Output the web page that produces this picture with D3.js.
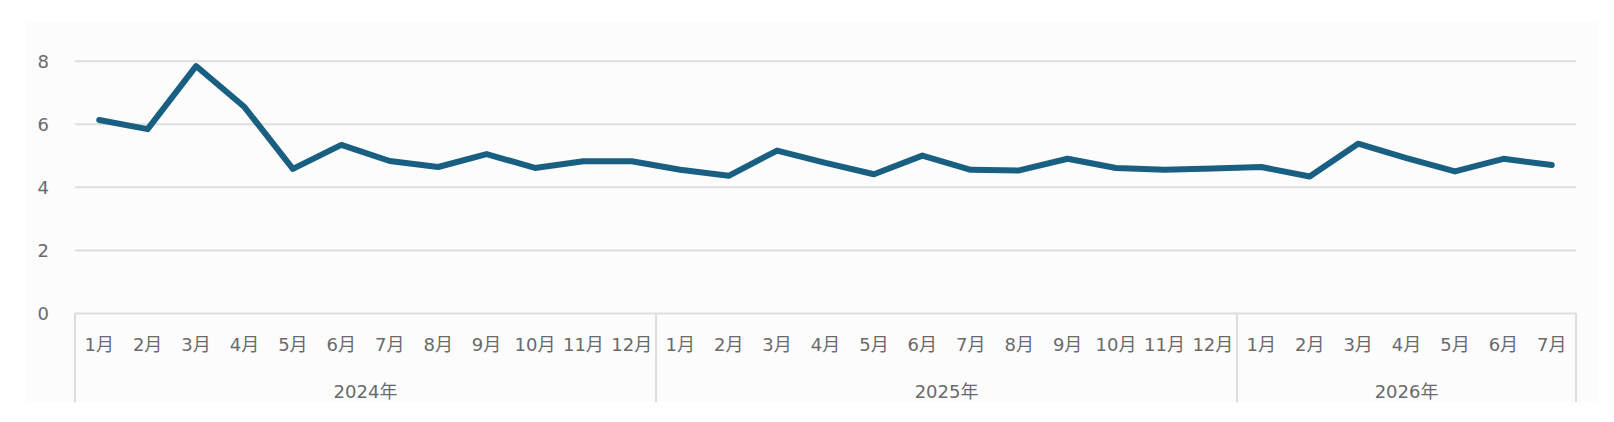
<!DOCTYPE html>
<html>
<head>
<meta charset="utf-8">
<script src="https://cdn.jsdelivr.net/npm/d3@7"></script>
<style>
  body { margin: 0; background: #ffffff; }
  text { font-family: "DejaVu Sans", "Noto Sans CJK JP", sans-serif; fill: #6a6a6a; }
</style>
</head>
<body>
<svg width="1614" height="422"></svg>
<script>
// year groups and the month labels under each of them
const years = ["2024年", "2025年", "2026年"];
const months2024 = ["1月", "2月", "3月", "4月", "5月", "6月", "7月", "8月", "9月", "10月", "11月", "12月"];
const months2025 = ["1月", "2月", "3月", "4月", "5月", "6月", "7月", "8月", "9月", "10月", "11月", "12月"];
const months2026 = ["1月", "2月", "3月", "4月", "5月", "6月", "7月"];
// values
const values2024 = [6.12, 5.83, 7.83, 6.53, 4.57, 5.33, 4.82, 4.63, 5.04, 4.6, 4.81, 4.81];
const values2025 = [4.54, 4.35, 5.15, 4.76, 4.4, 4.99, 4.54, 4.52, 4.89, 4.6, 4.54, 4.58];
const values2026 = [4.63, 4.33, 5.37, 4.91, 4.49, 4.89, 4.69];
const yTicks = [0, 2, 4, 6, 8];

const svg = d3.select("svg");
const plotLeft = 75, plotRight = 1576, plotTop = 60.7, plotBottom = 313;

// light panel behind the chart
svg.append("rect")
  .attr("x", 27).attr("y", 22)
  .attr("width", 1570).attr("height", 380)
  .attr("fill", "#fcfcfc");

// flatten groups into one list of categories
const groups = [
  { year: years[0], months: months2024, values: values2024 },
  { year: years[1], months: months2025, values: values2025 },
  { year: years[2], months: months2026, values: values2026 }
];
const points = [];
groups.forEach((gr, gi) => {
  gr.months.forEach((m, mi) => {
    points.push({ key: points.length, group: gi, month: m, value: gr.values[mi] });
  });
});

const x = d3.scaleBand()
  .domain(points.map((d) => d.key))
  .range([plotLeft, plotRight])
  .padding(0);
const y = d3.scaleLinear().domain([0, 8]).range([plotBottom, plotTop]);

// y axis with gridlines
const yAxis = svg.append("g")
  .attr("transform", "translate(" + plotLeft + ",0)")
  .call(d3.axisLeft(y).tickValues(yTicks).tickSize(-(plotRight - plotLeft)).tickPadding(26));
yAxis.select(".domain").remove();
yAxis.selectAll(".tick line").attr("stroke", "#dedede").attr("stroke-width", 2);
yAxis.selectAll(".tick text")
  .style("font-size", "18px")
  .attr("dy", "0.36em");

// month labels
const xAxis = svg.append("g")
  .attr("transform", "translate(0," + plotBottom + ")")
  .call(d3.axisBottom(x).tickSize(0).tickFormat((k) => points[k].month));
xAxis.select(".domain").remove();
xAxis.selectAll(".tick text")
  .attr("y", 38)
  .attr("dy", null)
  .style("font-size", "18px");

// group separators and year labels
let start = 0;
const bounds = [];
groups.forEach((gr) => {
  bounds.push({ year: gr.year, from: start, to: start + gr.months.length - 1 });
  start += gr.months.length;
});
const edges = [plotLeft].concat(bounds.map((b) => x(b.to) + x.bandwidth()));
svg.append("g")
  .selectAll("line")
  .data(edges)
  .enter()
  .append("line")
  .attr("x1", (d) => d).attr("x2", (d) => d)
  .attr("y1", plotBottom).attr("y2", 402)
  .attr("stroke", "#dcdcdc")
  .attr("stroke-width", 2);

svg.append("g")
  .selectAll("text")
  .data(bounds)
  .enter()
  .append("text")
  .attr("x", (d) => (x(d.from) + x(d.to) + x.bandwidth()) / 2)
  .attr("y", 398)
  .attr("text-anchor", "middle")
  .style("font-size", "18px")
  .text((d) => d.year);

// the series line
const line = d3.line()
  .x((d) => x(d.key) + x.bandwidth() / 2)
  .y((d) => y(d.value));
svg.append("path")
  .datum(points)
  .attr("d", line)
  .attr("fill", "none")
  .attr("stroke", "#185f82")
  .attr("stroke-width", 6)
  .attr("stroke-linejoin", "round")
  .attr("stroke-linecap", "round");
</script>
</body>
</html>
